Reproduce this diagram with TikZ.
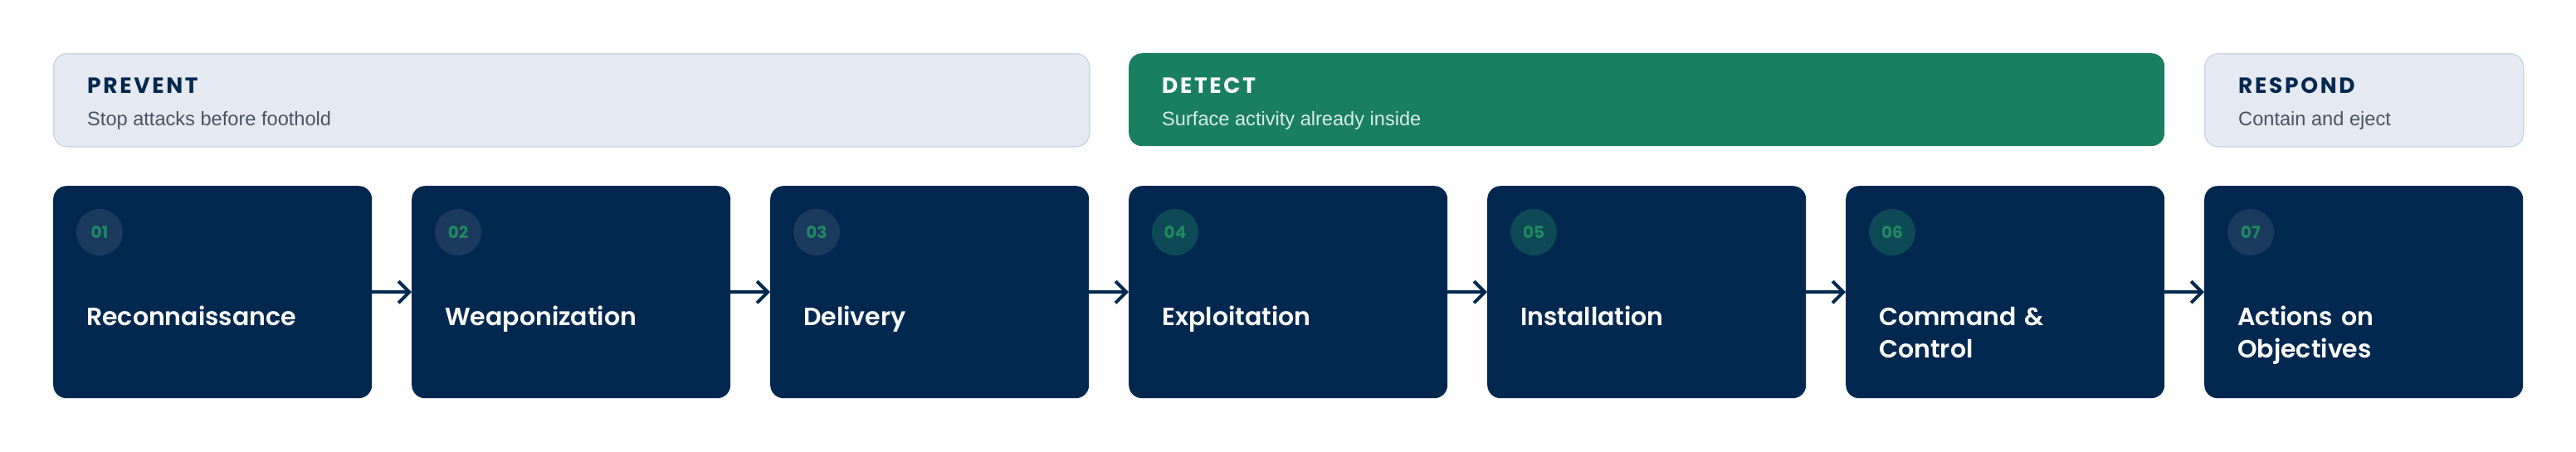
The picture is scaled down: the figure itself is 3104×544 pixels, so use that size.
\documentclass[tikz,border=0pt]{standalone}
\usepackage{fontspec}
\usetikzlibrary{arrows.meta}
\setmainfont{Liberation Sans}
\newfontfamily\headfont{Poppins}[UprightFont=* Bold, LetterSpace=10]
\newfontfamily\titlefont{Poppins}[UprightFont=* SemiBold]
\newfontfamily\numfont{Poppins}[UprightFont=* Bold]
\definecolor{navy}{HTML}{03284F}
\definecolor{bandlight}{HTML}{E4E9F2}
\definecolor{bandline}{HTML}{CDD6E4}
\definecolor{detectgreen}{HTML}{1A7F60}
\definecolor{subgray}{HTML}{4A5363}
\definecolor{sublight}{HTML}{D8EEE6}
\definecolor{numgreen}{HTML}{1F8A60}
\definecolor{circB}{HTML}{1C3A5E}
\definecolor{circG}{HTML}{0E4A55}
\tikzset{
  lightband/.style={rectangle, rounded corners=16pt, fill=bandlight, draw=bandline, line width=1.5pt, inner sep=0pt, anchor=north west, minimum height=112pt},
  greenband/.style={rectangle, rounded corners=16pt, fill=detectgreen, inner sep=0pt, anchor=north west, minimum height=112pt},
  headtxt/.style={anchor=base west, inner sep=0pt, font=\headfont\fontsize{26.5}{30}\selectfont},
  subtxt/.style={anchor=base west, inner sep=0pt, font=\fontsize{23.6}{28}\selectfont},
  stepbox/.style={rectangle, rounded corners=16pt, fill=navy, inner sep=0pt, anchor=north west, minimum width=384pt, minimum height=256pt},
  numcirc/.style={circle, inner sep=0pt, minimum size=56pt, text=numgreen, font=\numfont\fontsize{20}{24}\selectfont},
  steptxt/.style={anchor=base west, inner sep=0pt, text width=330pt, align=left, text=white, font=\titlefont\fontsize{30}{39}\selectfont},
  arr/.style={draw=navy, line width=4pt, -{Straight Barb[length=13pt, width=26pt, line width=4pt]}}
}
\begin{document}
\begin{tikzpicture}[x=1pt, y=-1pt]
\useasboundingbox (0,0) rectangle (3104,544);
% phase bands
\node[lightband, minimum width=1248pt] (prevent) at (64,64) {};
\node[greenband, minimum width=1248pt] (detect) at (1360,64) {};
\node[lightband, minimum width=384pt] (respond) at (2656,64) {};
\node[headtxt, text=navy] (preventh) at (105,112) {PREVENT};
\node[subtxt, text=subgray] (prevents) at (105,151) {Stop attacks before foothold};
\node[headtxt, text=white] (detecth) at (1400,112) {DETECT};
\node[subtxt, text=sublight] (detects) at (1400,151) {Surface activity already inside};
\node[headtxt, text=navy] (respondh) at (2697,112) {RESPOND};
\node[subtxt, text=subgray] (responds) at (2697,151) {Contain and eject};
% steps
\foreach \n/\t/\cf [count=\k from 0] in {01/Reconnaissance/circB, 02/Weaponization/circB, 03/Delivery/circB, 04/Exploitation/circG, 05/Installation/circG, 06/{Command \&\\Control}/circG, 07/{Actions on\\Objectives}/circB}{
  \pgfmathsetmacro{\bx}{64+432*\k}
  \node[stepbox] (s\k) at (\bx,224) {};
  \node[numcirc, fill=\cf] (n\k) at (\bx+56,280) {\n};
  \node[steptxt] (t\k) at (\bx+40,392) {\t};
}
\foreach \a/\b in {0/1,1/2,2/3,3/4,4/5,5/6}{
  \draw[arr] (s\a.east) -- (s\b.west);
}
\end{tikzpicture}
\end{document}
